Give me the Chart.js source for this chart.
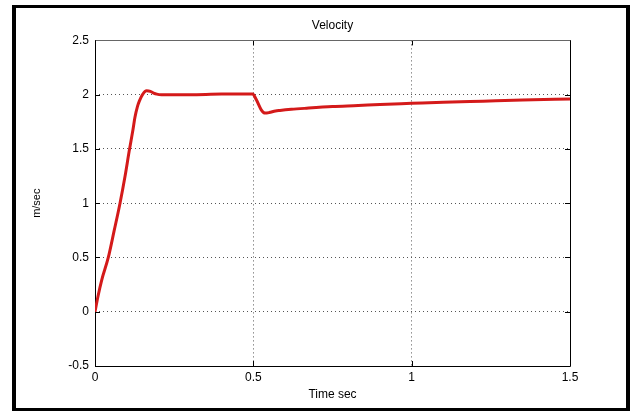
<!DOCTYPE html>
<html>
<head>
<meta charset="utf-8">
<title>Velocity</title>
<script src="https://cdn.jsdelivr.net/npm/chart.js@4/dist/chart.umd.min.js"></script>
<style>
  html, body { margin: 0; padding: 0; background: #fff; }
  #wrap { position: relative; width: 632px; height: 412px; }
</style>
</head>
<body>
<div id="wrap"><canvas id="chart" width="632" height="412"></canvas></div>
<script>
// Time samples (s) and velocity (m/s) of the response
const timeSec = [0, 0.01, 0.021, 0.042, 0.06, 0.079, 0.095, 0.108, 0.12, 0.126, 0.134, 0.14, 0.15,
  0.163, 0.175, 0.185, 0.195, 0.21, 0.237, 0.3, 0.4, 0.498, 0.51, 0.525, 0.537, 0.55, 0.57, 0.584,
  0.62, 0.668, 0.75, 0.831, 0.9, 1.0, 1.1, 1.225, 1.35, 1.5];
const velocity = [0, 0.15, 0.29, 0.5, 0.74, 1.0, 1.25, 1.48, 1.68, 1.79, 1.89, 1.94, 2.0,
  2.035, 2.03, 2.015, 2.005, 2.0, 2.0, 2.0, 2.005, 2.005, 1.95, 1.86, 1.83, 1.835, 1.85, 1.855,
  1.865, 1.875, 1.89, 1.9, 1.91, 1.92, 1.93, 1.94, 1.95, 1.96];

// Axis ranges and tick steps
const xRange = [0, 1.5];
const yRange = [-0.5, 2.5];
const xStep = 0.5;
const yStep = 0.5;

const FONT = "'Liberation Sans', Arial, sans-serif";

// Outer frame, axes box and inward tick marks
const framePlugin = {
  id: 'frameAndBox',
  beforeDraw(chart) {
    const ctx = chart.ctx;
    ctx.save();
    ctx.fillStyle = '#fff';
    ctx.fillRect(0, 0, chart.width, chart.height);
    ctx.restore();
  },
  beforeDatasetsDraw(chart) {
    const ctx = chart.ctx;
    const a = chart.chartArea;
    const xs = chart.scales.x, ys = chart.scales.y;
    ctx.save();
    ctx.lineWidth = 1;
    // tick marks pointing inward on all four sides
    ctx.strokeStyle = '#000';
    const tl = 5;
    xs.ticks.forEach(t => {
      const px = Math.round(xs.getPixelForValue(t.value)) + 0.5;
      ctx.beginPath();
      ctx.moveTo(px, a.bottom); ctx.lineTo(px, a.bottom - tl);
      ctx.moveTo(px, a.top); ctx.lineTo(px, a.top + tl);
      ctx.stroke();
    });
    ys.ticks.forEach(t => {
      const py = Math.round(ys.getPixelForValue(t.value)) + 0.5;
      ctx.beginPath();
      ctx.moveTo(a.left, py); ctx.lineTo(a.left + tl, py);
      ctx.moveTo(a.right, py); ctx.lineTo(a.right - tl, py);
      ctx.stroke();
    });
    // axes box
    const L = Math.round(a.left) + 0.5, R = Math.round(a.right) + 0.5;
    const T = Math.round(a.top) + 0.5, B = Math.round(a.bottom) + 0.5;
    ctx.strokeStyle = '#666';
    ctx.beginPath(); ctx.moveTo(L, T); ctx.lineTo(R, T); ctx.stroke();
    ctx.strokeStyle = '#000';
    ctx.beginPath();
    ctx.moveTo(R, T); ctx.lineTo(R, B); ctx.lineTo(L, B); ctx.lineTo(L, T);
    ctx.stroke();
    ctx.restore();
  },
  afterDraw(chart) {
    const ctx = chart.ctx;
    ctx.save();
    ctx.fillStyle = '#000';
    ctx.fillRect(12, 5, 4, 406);
    ctx.fillRect(12, 5, 618, 3);
    ctx.fillRect(626, 5, 4, 406);
    ctx.fillRect(12, 408, 618, 3);
    ctx.restore();
  }
};

new Chart(document.getElementById('chart'), {
  type: 'line',
  data: {
    datasets: [{
      data: timeSec.map((t, i) => ({ x: t, y: velocity[i] })),
      borderColor: '#d41a1a',
      borderWidth: 3,
      pointRadius: 0,
      fill: false,
      cubicInterpolationMode: 'monotone'
    }]
  },
  options: {
    responsive: false,
    animation: false,
    events: [],
    layout: { padding: { left: 16, right: 62, top: 8, bottom: 10 } },
    plugins: {
      legend: { display: false },
      tooltip: { enabled: false },
      title: {
        display: true,
        text: 'Velocity',
        fullSize: false,
        color: '#000',
        font: { family: FONT, size: 12, weight: 'normal' },
        padding: { top: 10, bottom: 8 }
      }
    },
    scales: {
      x: {
        type: 'linear',
        min: xRange[0], max: xRange[1],
        afterBuildTicks(scale) {
          const t = [];
          for (let v = xRange[0]; v <= xRange[1] + 1e-9; v += xStep) t.push({ value: +v.toFixed(2) });
          scale.ticks = t;
        },
        afterFit(scale) { scale.height = 412 - 366 - 10; },
        ticks: {
          color: '#000', padding: 4,
          font: { family: FONT, size: 12 },
          maxRotation: 0,
          callback: v => String(v)
        },
        grid: { color: '#555', lineWidth: 1, drawTicks: false },
        border: { display: false, dash: [1, 3] },
        title: {
          display: true, text: 'Time sec', color: '#000',
          font: { family: FONT, size: 12 }, padding: { top: 5, bottom: 0 }
        }
      },
      y: {
        type: 'linear',
        min: yRange[0], max: yRange[1],
        afterBuildTicks(scale) {
          const t = [];
          for (let v = yRange[0]; v <= yRange[1] + 1e-9; v += yStep) t.push({ value: +v.toFixed(2) });
          scale.ticks = t;
        },
        afterFit(scale) { scale.width = 95 - 16; },
        ticks: {
          color: '#000', padding: 6,
          font: { family: FONT, size: 12 },
          callback: v => String(v)
        },
        grid: { color: '#555', lineWidth: 1, drawTicks: false },
        border: { display: false, dash: [1, 3] },
        title: {
          display: true, text: 'm/sec', color: '#000',
          font: { family: FONT, size: 11 }, padding: { top: 14, bottom: 0 }
        }
      }
    }
  },
  plugins: [framePlugin]
});
</script>
</body>
</html>
